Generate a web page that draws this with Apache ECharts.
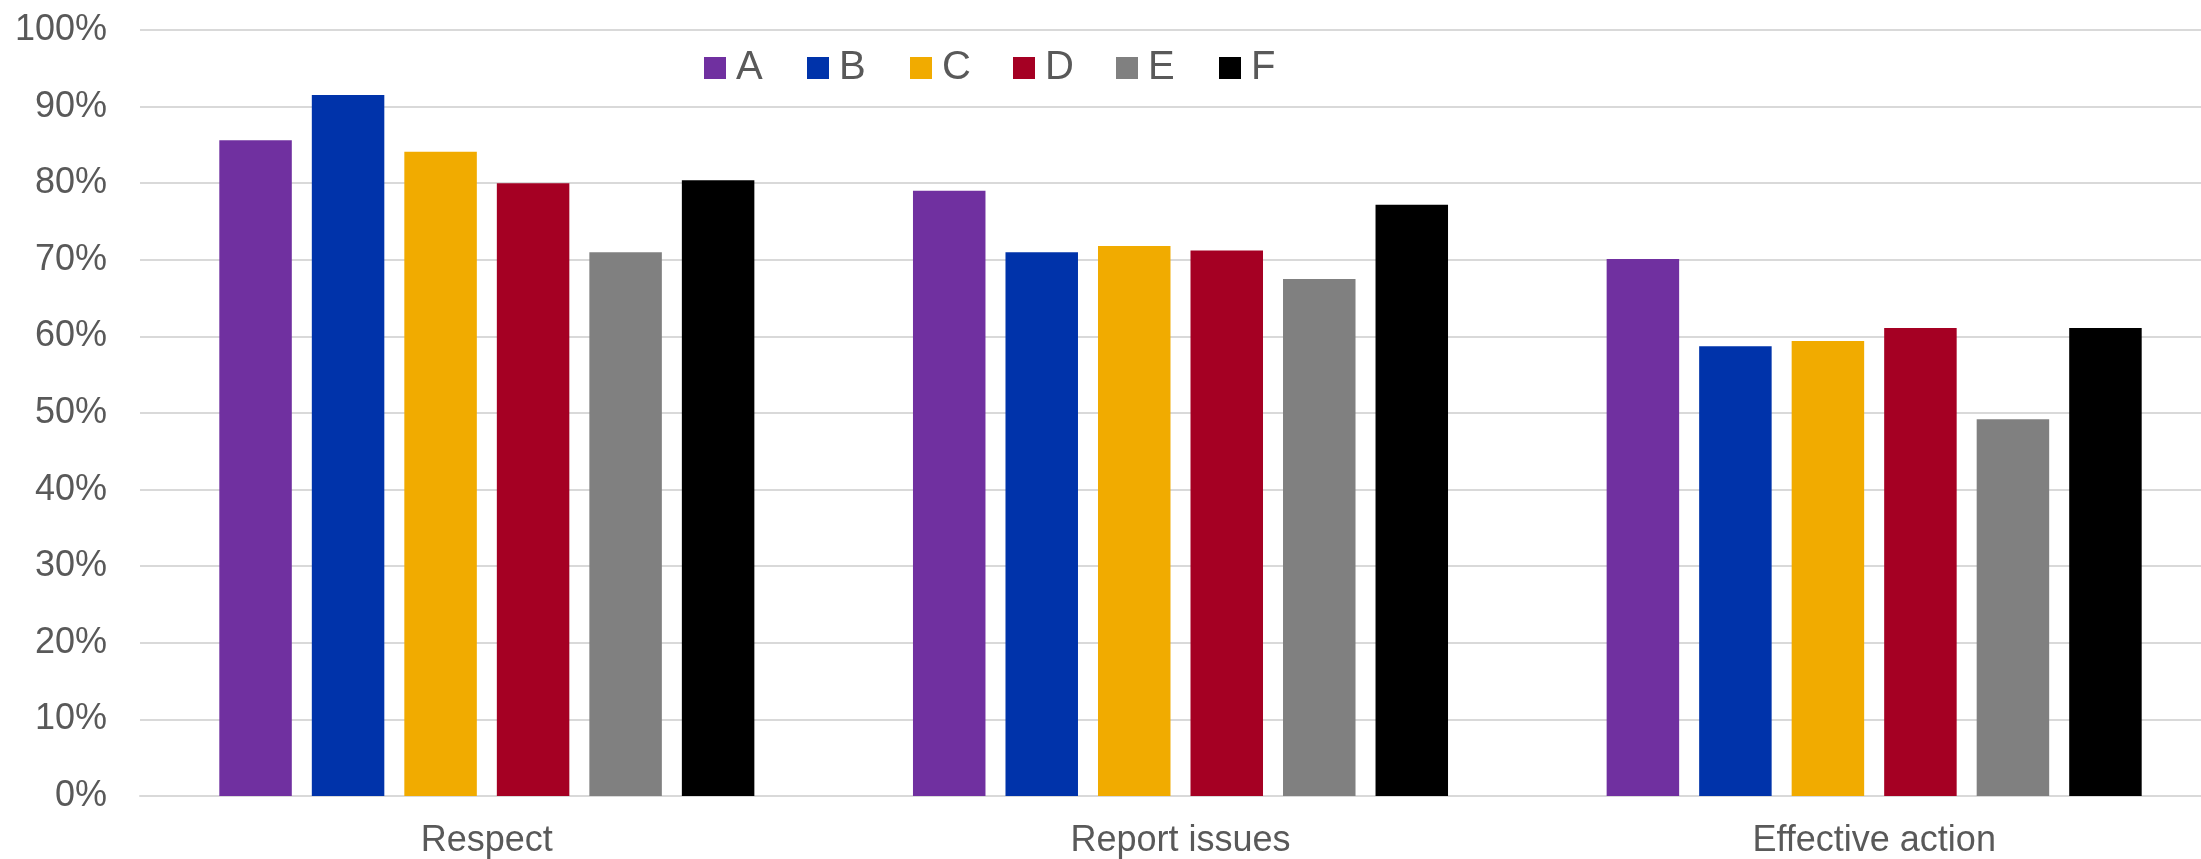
<!DOCTYPE html>
<html>
<head>
<meta charset="utf-8">
<script src="https://cdn.jsdelivr.net/npm/echarts@6/dist/echarts.min.js"></script>
<style>
html,body{margin:0;padding:0;background:#fff;overflow:hidden;width:2201px;height:859px;}
#chart{width:2221px;height:859px;}
</style>
</head>
<body>
<div id="chart"></div>
<script>
const categories = ['Respect', 'Report issues', 'Effective action'];
const seriesNames = ['A', 'B', 'C', 'D', 'E', 'F'];
const valuesA = [85.6, 79.0, 70.1];
const valuesB = [91.5, 71.0, 58.7];
const valuesC = [84.1, 71.8, 59.4];
const valuesD = [80.0, 71.2, 61.1];
const valuesE = [71.0, 67.5, 49.2];
const valuesF = [80.4, 77.2, 61.1];
const colors = ['#7030A0', '#0033AA', '#F1AB00', '#A50023', '#808080', '#000000'];
const allValues = [valuesA, valuesB, valuesC, valuesD, valuesE, valuesF];

const font = '"Liberation Sans", Arial, sans-serif';
const chart = echarts.init(document.getElementById('chart'));
chart.setOption({
  animation: false,
  backgroundColor: '#ffffff',
  legend: {
    left: 704,
    top: 48,
    padding: 0,
    itemWidth: 22,
    itemHeight: 22,
    itemGap: 35,
    icon: 'rect',
    textStyle: { fontFamily: font, fontSize: 40, color: '#595959', lineHeight: 40, width: 36, padding: [0, 0, 0, 5] },
    data: seriesNames
  },
  grid: { left: 140, right: 0, top: 30, bottom: 63, containLabel: false },
  xAxis: {
    type: 'category',
    data: categories,
    axisTick: { show: false },
    axisLine: { lineStyle: { color: '#d9d9d9', width: 2 } },
    axisLabel: { fontFamily: font, fontSize: 36, color: '#595959', margin: 27 }
  },
  yAxis: {
    type: 'value',
    min: 0,
    max: 100,
    interval: 10,
    axisLine: { show: false },
    axisTick: { show: false },
    axisLabel: { formatter: '{value}%', fontFamily: font, fontSize: 36, color: '#595959', margin: 33 },
    splitLine: { lineStyle: { color: '#d9d9d9', width: 2 } }
  },
  series: seriesNames.map((n, i) => ({
    name: n,
    type: 'bar',
    data: allValues[i],
    barWidth: 72.5,
    barGap: '27.6%',
    itemStyle: { color: colors[i] }
  }))
});
</script>
</body>
</html>
